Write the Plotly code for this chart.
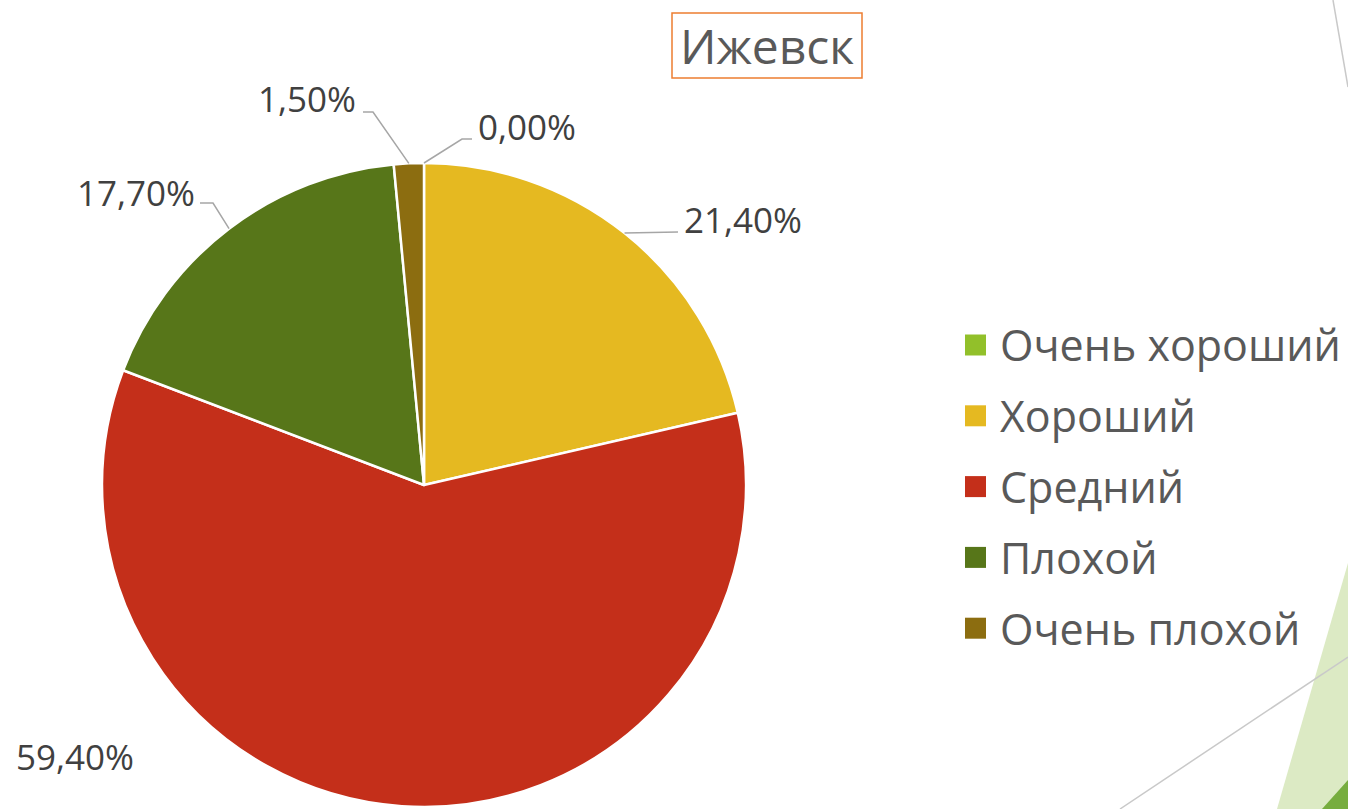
import math
import plotly.graph_objects as go

# ---- data ----
categories = ["Очень хороший", "Хороший", "Средний", "Плохой", "Очень плохой"]
values = [0.0, 21.4, 59.4, 17.7, 1.5]
colors = ["#92C02A", "#E5B921", "#C42F1A", "#577619", "#8C6D10"]
title_text = "Ижевск"

W, H = 1348, 809
FONT = "Open Sans"
TEXT_GRAY = "#595959"
LABEL_GRAY = "#404040"

def px(x, y):
    return x / W, 1 - y / H

# pie geometry (pixels)
CX, CY, R = 424, 485, 322
x0, y1 = px(CX - R, CY - R)
x1, y0 = px(CX + R, CY + R)

fig = go.Figure()
fig.add_trace(go.Pie(
    labels=categories, values=values, sort=False, direction="clockwise",
    rotation=0, marker=dict(colors=colors, line=dict(color="white", width=2.5)),
    textinfo="none", hoverinfo="skip", showlegend=False,
    domain=dict(x=[x0, x1], y=[y0, y1]),
))

shapes = []
annotations = []

# background decorations
def path(points, **kw):
    d = "M " + " L ".join(f"{px(x, y)[0]},{px(x, y)[1]}" for x, y in points)
    if kw.pop("closed", False):
        d += " Z"
    return dict(type="path", xref="paper", yref="paper", path=d, layer="below", **kw)

shapes.append(path([(1348, 563), (1277, 809), (1348, 809)], closed=True,
                   fillcolor="#DCEAC4", line=dict(width=0)))
shapes.append(path([(1322, 809), (1348, 780), (1348, 809)], closed=True,
                   fillcolor="#77AD3F", line=dict(width=0)))
shapes.append(path([(1348, 657), (1120, 809)], line=dict(color="#C9C9C9", width=1.5)))
shapes.append(path([(1333, 0), (1348, 87)], line=dict(color="#C9C9C9", width=1.5)))

# title box
bx0, by1 = px(672, 13)
bx1, by0 = px(862, 78)
shapes.append(dict(type="rect", xref="paper", yref="paper", x0=bx0, x1=bx1, y0=by0, y1=by1,
                   line=dict(color="#ED7D31", width=1.5), fillcolor="white"))
tx, ty = px(767, 45)
annotations.append(dict(x=tx, y=ty, xref="paper", yref="paper", text=title_text,
                        showarrow=False, xanchor="center", yanchor="middle",
                        font=dict(family=FONT, size=48, color=TEXT_GRAY)))

# data labels: position (px), anchor, elbow point (px)
label_layout = {
    "Очень хороший": dict(pos=(476, 126), anchor="left", elbow=[(462, 139), (472, 139)]),
    "Хороший": dict(pos=(682, 219), anchor="left", elbow=[(678, 232)]),
    "Средний": dict(pos=(14, 756), anchor="left", elbow=None),
    "Плохой": dict(pos=(197, 192), anchor="right", elbow=[(213, 203), (200, 203)]),
    "Очень плохой": dict(pos=(358, 99), anchor="right", elbow=[(373, 112), (363, 112)]),
}
total = sum(values)
cum = 0.0
for cat, v in zip(categories, values):
    mid = (cum + v / 2) / total * 2 * math.pi
    cum += v
    ex, ey = CX + R * math.sin(mid), CY - R * math.cos(mid)
    lay = label_layout[cat]
    txt = f"{v:.2f}".replace(".", ",") + "%"
    lx, ly = px(*lay["pos"])
    annotations.append(dict(x=lx, y=ly, xref="paper", yref="paper", text=txt,
                            showarrow=False, xanchor=lay["anchor"], yanchor="middle",
                            font=dict(family=FONT, size=35, color=LABEL_GRAY)))
    if lay["elbow"]:
        pts = [(ex, ey)] + lay["elbow"]
        d = "M " + " L ".join(f"{px(x, y)[0]},{px(x, y)[1]}" for x, y in pts)
        shapes.append(dict(type="path", xref="paper", yref="paper", path=d,
                           line=dict(color="#A6A6A6", width=1.5)))

# legend (manual, to match large square markers)
LEG_X, LEG_Y0, LEG_DY, SQ = 965, 345, 70.8, 21
for i, (cat, col) in enumerate(zip(categories, colors)):
    cy = LEG_Y0 + i * LEG_DY
    ax0, ay1 = px(LEG_X, cy - SQ / 2)
    ax1, ay0 = px(LEG_X + SQ, cy + SQ / 2)
    shapes.append(dict(type="rect", xref="paper", yref="paper", x0=ax0, x1=ax1, y0=ay0, y1=ay1,
                       fillcolor=col, line=dict(width=0)))
    lx, ly = px(LEG_X + SQ + 12, cy)
    annotations.append(dict(x=lx, y=ly, xref="paper", yref="paper", text=cat,
                            showarrow=False, xanchor="left", yanchor="middle",
                            font=dict(family=FONT, size=43, color=TEXT_GRAY)))

fig.update_layout(
    width=W, height=H, margin=dict(l=0, r=0, t=0, b=0),
    paper_bgcolor="white", plot_bgcolor="white",
    shapes=shapes, annotations=annotations, showlegend=False,
)
fig.write_html(
    "out.html",
    config={"displayModeBar": False},
    post_script="document.body.style.margin='0';document.body.style.overflow='hidden';",
)
